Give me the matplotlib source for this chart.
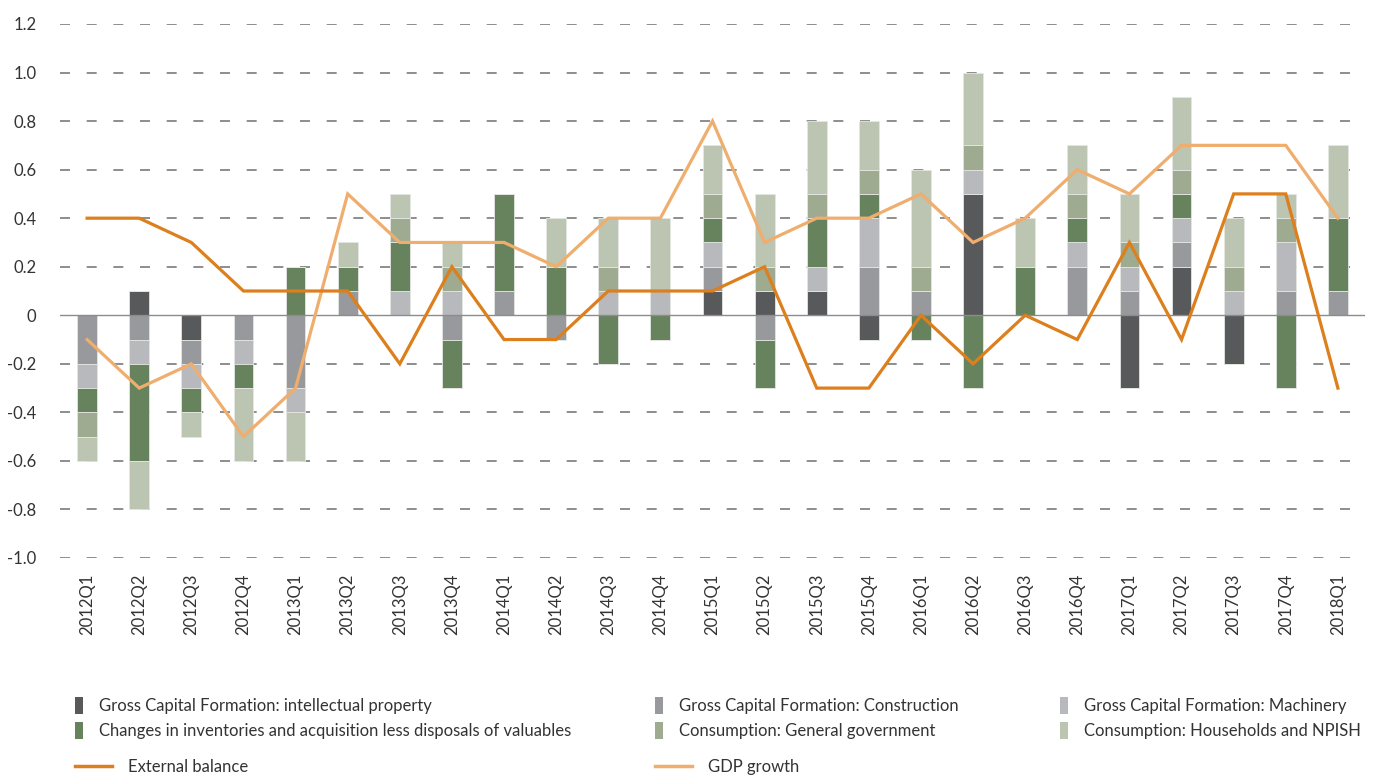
import numpy as np
import matplotlib.pyplot as plt
from matplotlib.patches import Patch
from matplotlib.lines import Line2D

plt.rcParams['font.family'] = ['Lato', 'DejaVu Sans']

quarters = ['2012Q1', '2012Q2', '2012Q3', '2012Q4', '2013Q1', '2013Q2', '2013Q3', '2013Q4',
            '2014Q1', '2014Q2', '2014Q3', '2014Q4', '2015Q1', '2015Q2', '2015Q3', '2015Q4',
            '2016Q1', '2016Q2', '2016Q3', '2016Q4', '2017Q1', '2017Q2', '2017Q3', '2017Q4',
            '2018Q1']

# contributions (percentage points)
gcf_ip = [0, 0.1, -0.1, 0, 0, 0, 0, 0, 0, 0, 0, 0, 0.1, 0.1, 0.1, -0.1, 0, 0.5, 0, 0, -0.3, 0.2, -0.2, 0, 0]
gcf_construction = [-0.2, -0.1, -0.1, -0.1, -0.3, 0.1, 0, -0.1, 0.1, -0.1, 0, 0, 0.1, -0.1, 0, 0.2, 0.1, 0, 0, 0.2, 0.1, 0.1, 0, 0.1, 0.1]
gcf_machinery = [-0.1, -0.1, -0.1, -0.1, -0.1, 0, 0.1, 0.1, 0, 0, 0.1, 0.1, 0.1, 0, 0.1, 0.2, 0, 0.1, 0, 0.1, 0.1, 0.1, 0.1, 0.2, 0]
inventories = [-0.1, -0.4, -0.1, -0.1, 0.2, 0.1, 0.2, -0.2, 0.4, 0.2, -0.2, -0.1, 0.1, -0.2, 0.2, 0.1, -0.1, -0.3, 0.2, 0.1, 0, 0.1, 0, -0.3, 0.3]
cons_government = [-0.1, 0, 0, 0, 0, 0, 0.1, 0.1, 0, 0, 0.1, 0, 0.1, 0.1, 0.1, 0.1, 0.1, 0.1, 0, 0.1, 0.1, 0.1, 0.1, 0.1, 0]
cons_households = [-0.1, -0.2, -0.1, -0.3, -0.2, 0.1, 0.1, 0.1, 0, 0.2, 0.2, 0.3, 0.2, 0.3, 0.3, 0.2, 0.4, 0.3, 0.2, 0.2, 0.2, 0.3, 0.2, 0.1, 0.3]

external_balance = [0.4, 0.4, 0.3, 0.1, 0.1, 0.1, -0.2, 0.2, -0.1, -0.1, 0.1, 0.1, 0.1, 0.2, -0.3, -0.3,
                    0.0, -0.2, 0.0, -0.1, 0.3, -0.1, 0.5, 0.5, -0.3]
gdp_growth = [-0.1, -0.3, -0.2, -0.5, -0.3, 0.5, 0.3, 0.3, 0.3, 0.2, 0.4, 0.4, 0.8, 0.3, 0.4, 0.4,
              0.5, 0.3, 0.4, 0.6, 0.5, 0.7, 0.7, 0.7, 0.4]

series = [
    ('Gross Capital Formation: intellectual property', gcf_ip, '#58595b'),
    ('Gross Capital Formation: Construction', gcf_construction, '#98999d'),
    ('Gross Capital Formation: Machinery', gcf_machinery, '#b8b9bd'),
    ('Changes in inventories and acquisition less disposals of valuables', inventories, '#67835e'),
    ('Consumption: General government', cons_government, '#9eab90'),
    ('Consumption: Households and NPISH', cons_households, '#bcc5b2'),
]

fig = plt.figure(figsize=(13.78, 7.76), dpi=100)
ax = fig.add_axes([60 / 1378, 1 - 558 / 776, 1305 / 1378, 534 / 776])

x = np.arange(len(quarters))
pos_base = np.zeros(len(x))
neg_base = np.zeros(len(x))
for name, vals, col in series:
    v = np.array(vals, dtype=float)
    pos = np.where(v > 0, v, 0)
    neg = np.where(v < 0, v, 0)
    ax.bar(x, pos, 0.38, bottom=pos_base, color=col, edgecolor='#e4e6e2', linewidth=0.6, zorder=2)
    ax.bar(x, neg, 0.38, bottom=neg_base, color=col, edgecolor='#e4e6e2', linewidth=0.6, zorder=2)
    pos_base += pos
    neg_base += neg

ax.plot(x, external_balance, color='#dc7f1c', lw=2.3, zorder=4, solid_joinstyle='miter')
ax.plot(x, gdp_growth, color='#efad6e', lw=2.3, zorder=3, solid_joinstyle='miter')

yticks = np.round(np.arange(-1.0, 1.21, 0.2), 1)
for yv in yticks:
    if abs(yv) < 1e-9:
        ax.axhline(0, color='#8c8c8c', lw=1.0, zorder=2.5)
    else:
        ax.axhline(yv, color='#7a7a7a', lw=1.2, linestyle=(0, (6, 10)), zorder=1)

ax.set_xlim(-0.52, 24.52)
ax.set_ylim(-1.0, 1.2)
ax.set_yticks(yticks)
ax.set_yticklabels(['0' if abs(v) < 1e-9 else f'{v:.1f}' for v in yticks])
ax.set_xticks(x)
ax.set_xticklabels(quarters, rotation=90)
ax.tick_params(axis='both', length=0, labelsize=12, labelcolor='#333333')
ax.tick_params(axis='y', pad=17)
ax.tick_params(axis='x', pad=11)
for s in ax.spines.values():
    s.set_visible(False)

# legend: three columns of patches, then two line entries
cols_x = [75 / 1378, 655 / 1378, 1060 / 1378]
order = [(0, 3), (1, 4), (2, 5)]
for cx, (a, b) in zip(cols_x, order):
    handles = [Patch(facecolor=series[i][2], edgecolor='none') for i in (a, b)]
    labels = [series[i][0] for i in (a, b)]
    fig.legend(handles, labels, loc='upper left', bbox_to_anchor=(cx, 1 - 697 / 776),
               frameon=False, fontsize=12, handlelength=0.5, handleheight=1.2,
               handletextpad=0.95, labelspacing=0.45, borderpad=0, borderaxespad=0,
               labelcolor='#333333')

line_specs = [('External balance', '#dc7f1c', 75 / 1378), ('GDP growth', '#efad6e', 655 / 1378)]
for lab, col, cx in line_specs:
    fig.legend([Line2D([], [], color=col, lw=2.5)], [lab], loc='upper left',
               bbox_to_anchor=(cx, 1 - 759 / 776), frameon=False, fontsize=12,
               handlelength=2.2, handletextpad=1.0, borderpad=0, borderaxespad=0,
               labelcolor='#333333')

fig.savefig('out.png', dpi=100)
